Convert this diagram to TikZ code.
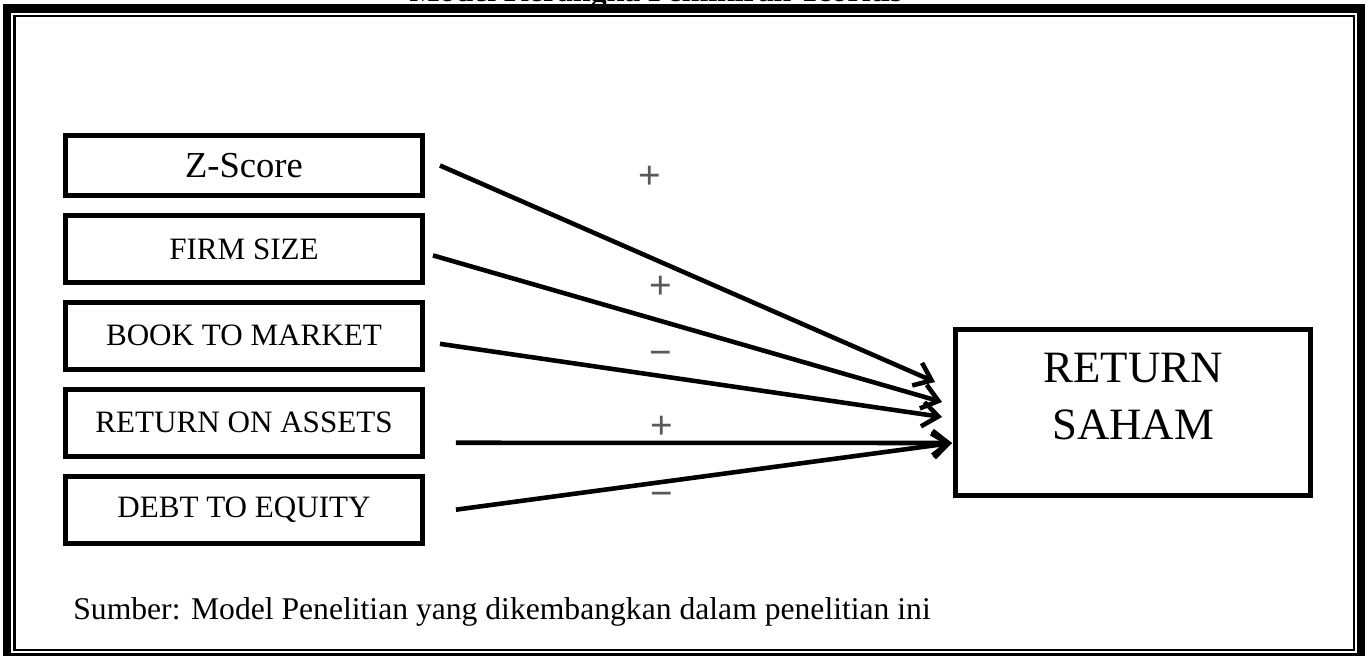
\documentclass[tikz,border=0pt]{standalone}
\usepackage{fontspec}
\setmainfont{Liberation Serif}
\newfontfamily\signfont{Liberation Sans}
\usetikzlibrary{arrows.meta, positioning}
\tikzstyle{arrow} = [line width=2.6pt, -{Straight Barb[length=9pt,width=14pt]}, black]
\tikzstyle{varbox} = [rectangle, draw=black, line width=2.8pt, minimum width=7.14cm, minimum height=1.34cm,
                      inner sep=0pt, align=center, font=\fontsize{17.7}{21}\selectfont]
\tikzstyle{sign} = [font=\signfont\fontsize{22}{24}\selectfont, text=black!65]

\begin{document}
\begin{tikzpicture}[node distance=0.3cm]
    \useasboundingbox (0,0) rectangle (27.4,13.1);
    % Double frame
    \draw[line width=4.8pt] (0.14,-0.04) rectangle (27.22,12.93);
    \draw[line width=1.4pt] (0.29,0.10) rectangle (27.08,12.78);
    \node[anchor=base, inner sep=0pt, font=\bfseries\fontsize{18.1}{22}\selectfont] (title) at (13.12,13.07) {Model Kerangka Pemikiran Teoritis};

    % Independent variables
    \node[varbox, minimum height=1.2cm, font=\fontsize{20.8}{25}\selectfont] (zs) at (4.88,9.79) {Z-Score};
    \node[varbox, below=of zs] (fs) {FIRM SIZE};
    \node[varbox, below=of fs] (btm) {BOOK TO MARKET};
    \node[varbox, below=of btm] (roa) {RETURN ON ASSETS};
    \node[varbox, below=of roa] (der) {DEBT TO EQUITY};

    % Dependent variable
    \node[rectangle, draw=black, line width=2.8pt, minimum width=7.1cm, minimum height=3.32cm, align=center,
          font=\fontsize{25.5}{32.3}\selectfont, text depth=0.64cm] (ret) at (22.66,4.85) {RETURN\\SAHAM};

    % Arrows
    \draw[arrow] ([xshift=0.3cm]zs.east) -- ([xshift=-0.36cm, yshift=0.61cm]ret.west);
    \draw[arrow] ([xshift=0.16cm, yshift=-0.13cm]fs.east) -- ([xshift=-0.22cm, yshift=0.21cm]ret.west);
    \draw[arrow] ([xshift=0.3cm, yshift=-0.16cm]btm.east) -- ([xshift=-0.22cm, yshift=-0.09cm]ret.west);
    \draw[arrow] ([xshift=0.62cm, yshift=-0.4cm]roa.east) -- ([xshift=-0.02cm, yshift=-0.61cm]ret.west);
    \draw[arrow] ([xshift=0.62cm]der.east) -- ([xshift=-0.02cm, yshift=-0.61cm]ret.west);

    % Signs
    \node[sign] (s1) at (13.0,9.56) {+};
    \node[sign] (s2) at (13.22,7.36) {+};
    \node[sign] (s3) at (13.22,5.94) {−};
    \node[sign] (s4) at (13.24,4.56) {+};
    \node[sign] (s5) at (13.24,3.12) {−};

    % Source note
    \node[anchor=base west, inner sep=0pt, font=\fontsize{18}{22}\selectfont] (src) at (1.46,0.72)
        {Sumber: Model Penelitian yang dikembangkan dalam penelitian ini};
\end{tikzpicture}
\end{document}
